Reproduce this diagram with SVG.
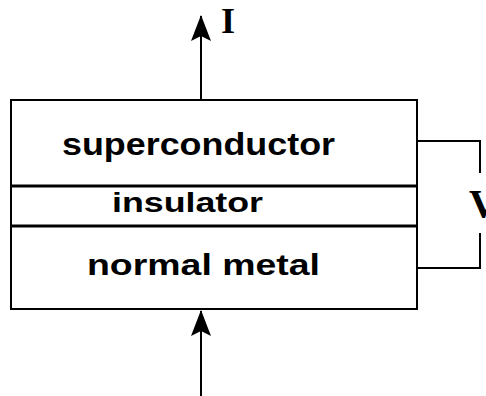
<svg xmlns="http://www.w3.org/2000/svg" width="486" height="396" viewBox="0 0 486 396">
<style>
.box{fill:#fff;stroke:#000;stroke-width:2}
.sep{stroke:#000;stroke-width:3}
.lbl{font-family:"Liberation Sans",Arial,sans-serif;font-weight:bold;fill:#000;text-anchor:start}
.sym{font-family:"Liberation Serif","Times New Roman",serif;font-weight:bold;fill:#000}
.wire{fill:none;stroke:#000;stroke-width:2}
</style>
<defs>
<marker id="ah" viewBox="0 0 26 20" refX="25" refY="10" markerWidth="26" markerHeight="20" markerUnits="userSpaceOnUse" orient="auto">
<path d="M26,10 L0,0 L5,10 L0,20 Z" fill="#000"/>
</marker>
</defs>
<rect width="486" height="396" fill="#fff"/>
<g id="stack">
<rect class="box" x="11" y="100" width="406" height="209"/>
</g>
<g id="superconductor">
<text class="lbl" x="62" y="155" font-size="32" textLength="273" lengthAdjust="spacingAndGlyphs">superconductor</text>
</g>
<g id="insulator">
<line class="sep" x1="11" y1="186" x2="417" y2="186"/>
<text class="lbl" x="112" y="212" font-size="28" textLength="151" lengthAdjust="spacingAndGlyphs">insulator</text>
</g>
<g id="normal-metal">
<line class="sep" x1="11" y1="226" x2="417" y2="226"/>
<text class="lbl" x="87" y="275" font-size="30" textLength="233" lengthAdjust="spacingAndGlyphs">normal metal</text>
</g>
<g id="connectors">
<line class="wire" x1="201" y1="100" x2="201" y2="16" marker-end="url(#ah)"/>
<line class="wire" x1="201" y1="396" x2="201" y2="311" marker-end="url(#ah)"/>
<polyline class="wire" points="417,141 480,141 480,173"/>
<polyline class="wire" points="480,233 480,268 417,268"/>
</g>
<g id="labels">
<text class="sym" x="221" y="33" font-size="36">I</text>
<text class="sym" x="469" y="217" font-size="40">V</text>
</g>
</svg>
